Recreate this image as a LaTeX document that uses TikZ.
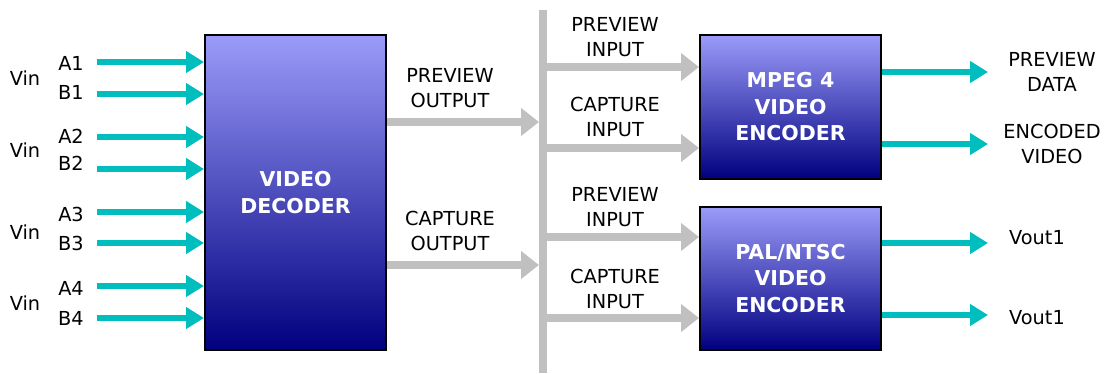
\documentclass[tikz,border=0pt]{standalone}
\usepackage{fontspec}
\setmainfont{DejaVu Sans}
\usetikzlibrary{arrows.meta}
\definecolor{cyanarr}{RGB}{0,190,190}
\definecolor{busgray}{RGB}{192,192,192}
\definecolor{boxtop}{RGB}{155,155,250}
\definecolor{boxbot}{RGB}{0,0,128}
\tikzset{
  lbl/.style={font=\fontsize{19.3pt}{25pt}\selectfont, align=center, inner sep=0pt, text=black},
  blk/.style={draw=black, line width=2pt, top color=boxtop, bottom color=boxbot, shading angle=0,
    text=white, font=\bfseries\fontsize{20.5pt}{26.5pt}\selectfont, align=center, inner sep=0pt},
  inarr/.style={draw=cyanarr, line width=6pt, -{Triangle[length=18pt,width=21pt]}},
  grayarr/.style={draw=busgray, line width=8pt, -{Triangle[length=18pt,width=27pt]}},
  busline/.style={draw=busgray, line width=8pt},
}
\begin{document}
\begin{tikzpicture}[x=1pt,y=-1pt]
\useasboundingbox (0,0) rectangle (1104,373);
% blocks
\node[blk, minimum width=181pt, minimum height=315pt] (dec) at (295.5,192.5) {VIDEO\\DECODER};
\node[blk, minimum width=181pt, minimum height=144pt] (mpeg) at (790.5,107) {MPEG 4\\VIDEO\\ENCODER};
\node[blk, minimum width=181pt, minimum height=143pt] (pal) at (790.5,278.5) {PAL/NTSC\\VIDEO\\ENCODER};
% input arrows
\foreach \n/\y in {a1/62,b1/94,a2/137,b2/169,a3/212,b3/243,a4/286,b4/318}{
  \coordinate (s\n) at (97,\y);
  \draw[inarr] (s\n) -- (s\n -| dec.west);
}
% input labels
\node[lbl] (vin1) at (25,78) {Vin};
\node[lbl] (vin2) at (25,150) {Vin};
\node[lbl] (vin3) at (25,232) {Vin};
\node[lbl] (vin4) at (25,303) {Vin};
\node[lbl] (la1) at (71,63) {A1};
\node[lbl] (lb1) at (71,92) {B1};
\node[lbl] (la2) at (71,136) {A2};
\node[lbl] (lb2) at (71,163) {B2};
\node[lbl] (la3) at (71,214) {A3};
\node[lbl] (lb3) at (71,243) {B3};
\node[lbl] (la4) at (71,288) {A4};
\node[lbl] (lb4) at (71,318) {B4};
% bus
\coordinate (bustop) at (543,10);
\coordinate (busbot) at (543,373);
\draw[busline] (bustop) -- (busbot);
% decoder outputs
\coordinate (pvo) at (539,122);
\coordinate (cpo) at (539,265);
\draw[grayarr] (dec.east |- pvo) -- (pvo);
\draw[grayarr] (dec.east |- cpo) -- (cpo);
\node[lbl] (lpvo) at (450,88) {PREVIEW\\OUTPUT};
\node[lbl] (lcpo) at (450,231) {CAPTURE\\OUTPUT};
% branches
\coordinate (br1) at (543,67);
\coordinate (br2) at (543,148);
\coordinate (br3) at (543,237);
\coordinate (br4) at (543,318);
\draw[grayarr] (br1) -- (br1 -| mpeg.west);
\draw[grayarr] (br2) -- (br2 -| mpeg.west);
\draw[grayarr] (br3) -- (br3 -| pal.west);
\draw[grayarr] (br4) -- (br4 -| pal.west);
\node[lbl] (lpi1) at (615,37) {PREVIEW\\INPUT};
\node[lbl] (lci1) at (615,117) {CAPTURE\\INPUT};
\node[lbl] (lpi2) at (615,207) {PREVIEW\\INPUT};
\node[lbl] (lci2) at (615,289) {CAPTURE\\INPUT};
% outputs
\coordinate (o1) at (988,72);
\coordinate (o2) at (988,144);
\coordinate (o3) at (988,243);
\coordinate (o4) at (988,315);
\draw[inarr] (mpeg.east |- o1) -- (o1);
\draw[inarr] (mpeg.east |- o2) -- (o2);
\draw[inarr] (pal.east |- o3) -- (o3);
\draw[inarr] (pal.east |- o4) -- (o4);
\node[lbl] (lpd) at (1052,72) {PREVIEW\\DATA};
\node[lbl] (lev) at (1052,144) {ENCODED\\VIDEO};
\node[lbl] (lv1) at (1037,238) {Vout1};
\node[lbl] (lv2) at (1037,318) {Vout1};
\end{tikzpicture}
\end{document}
